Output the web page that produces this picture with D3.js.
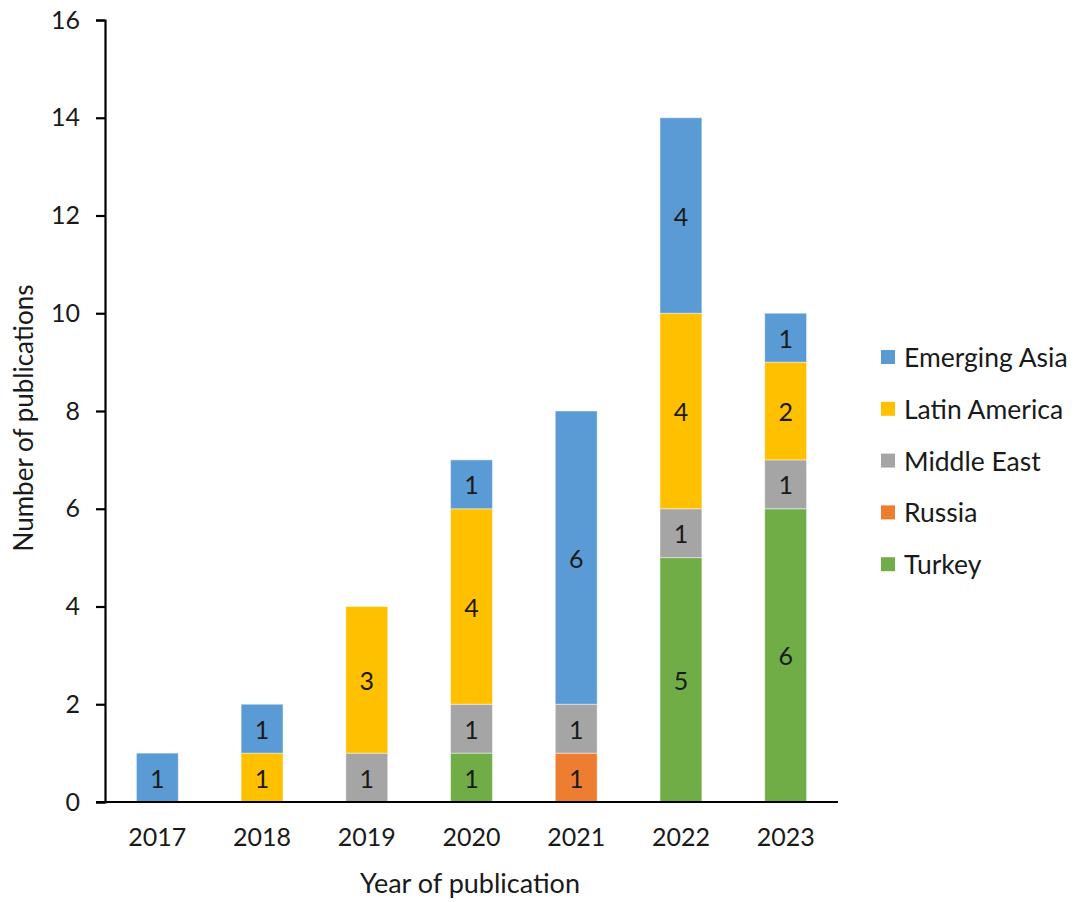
<!DOCTYPE html>
<html><head><meta charset="utf-8">
<script src="https://cdn.jsdelivr.net/npm/d3@7"></script>
<style>body{margin:0;background:#fff}svg{display:block}text{font-family:Lato,"Open Sans",sans-serif;fill:#1a1a1a}</style>
</head><body>
<svg id="c" width="1077" height="902"></svg>
<script>
const years = ["2017","2018","2019","2020","2021","2022","2023"];
const seriesNames = ["Turkey","Russia","Middle East","Latin America","Emerging Asia"];
const turkey       = [0,0,0,1,0,5,6];
const russia       = [0,0,0,0,1,0,0];
const middleEast   = [0,0,1,1,1,1,1];
const latinAmerica = [0,1,3,4,0,4,2];
const emergingAsia = [1,1,0,1,6,4,1];
const yTicks = [0,2,4,6,8,10,12,14,16];
const colors = {"Turkey":"#70AD47","Russia":"#ED7D31","Middle East":"#A5A5A5","Latin America":"#FFC000","Emerging Asia":"#5B9BD5"};
const legendOrder = ["Emerging Asia","Latin America","Middle East","Russia","Turkey"];

const vals = {"Turkey":turkey,"Russia":russia,"Middle East":middleEast,"Latin America":latinAmerica,"Emerging Asia":emergingAsia};
const table = years.map((y,i)=>{const o={year:y};seriesNames.forEach(s=>o[s]=vals[s][i]);return o;});
const stack = d3.stack().keys(seriesNames)(table);

const svg = d3.select("#c");
const pLeft=105, pRight=838, pTop=20, pBottom=802;
const x = d3.scaleBand().domain(years).range([pLeft,pRight]).paddingInner(0.6).paddingOuter(0.3);
const y = d3.scaleLinear().domain([0,16]).range([pBottom,pTop]);

// bars
const g = svg.append("g");
stack.forEach(layer=>{
  const s = layer.key;
  layer.forEach((d,i)=>{
    if(d[1]-d[0] <= 0) return;
    g.append("rect").attr("x",x(years[i])).attr("width",x.bandwidth())
      .attr("y",y(d[1])).attr("height",y(d[0])-y(d[1]))
      .attr("fill",colors[s]).attr("stroke","rgba(255,255,255,0.45)").attr("stroke-width",1);
    g.append("text").attr("x",x(years[i])+x.bandwidth()/2).attr("y",(y(d[0])+y(d[1]))/2)
      .attr("text-anchor","middle").attr("dominant-baseline","central")
      .style("font-size","25px").text(d[1]-d[0]);
  });
});

// axes
const yAxis = svg.append("g").attr("transform",`translate(${pLeft},0)`)
  .call(d3.axisLeft(y).tickValues(yTicks).tickSize(9).tickPadding(16));
yAxis.select(".domain").attr("stroke","#000").attr("stroke-width",2.2);
yAxis.selectAll(".tick line").attr("stroke","#000").attr("stroke-width",2.2);
yAxis.selectAll(".tick text").style("font-size","25px").attr("fill","#1a1a1a");

const xAxis = svg.append("g").attr("transform",`translate(0,${pBottom})`)
  .call(d3.axisBottom(x).tickSize(0).tickPadding(26));
xAxis.select(".domain").attr("d",`M${pLeft-9},0H${pRight}`).attr("stroke","#000").attr("stroke-width",2.2);
xAxis.selectAll(".tick text").style("font-size","25px").attr("fill","#1a1a1a");

// titles
svg.append("text").attr("x",470).attr("y",893).attr("text-anchor","middle").style("font-size","27px").text("Year of publication");
svg.append("text").attr("transform","translate(33,418) rotate(-90)").attr("text-anchor","middle").style("font-size","26px").text("Number of publications");

// legend
const lg = svg.append("g");
legendOrder.forEach((s,i)=>{
  const cy = 357 + i*51.8;
  lg.append("rect").attr("x",881).attr("y",cy-7).attr("width",14).attr("height",14).attr("fill",colors[s]);
  lg.append("text").attr("x",904).attr("y",cy).attr("dominant-baseline","central").style("font-size","26.5px").text(s);
});
</script>
</body></html>
